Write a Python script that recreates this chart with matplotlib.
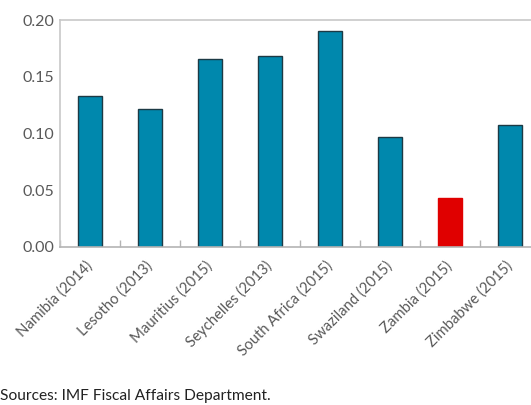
import matplotlib
matplotlib.use('Agg')
import matplotlib.pyplot as plt
import numpy as np

countries = ['Namibia (2014)', 'Lesotho (2013)', 'Mauritius (2015)', 'Seychelles (2013)',
             'South Africa (2015)', 'Swaziland (2015)', 'Zambia (2015)', 'Zimbabwe (2015)']
values = [0.133, 0.1215, 0.166, 0.168, 0.1905, 0.097, 0.0432, 0.1072]
highlight = 'Zambia (2015)'

plt.rcParams['font.family'] = ['Lato', 'DejaVu Sans']

fig = plt.figure(figsize=(5.31, 4.05), dpi=100)
ax = fig.add_axes([60 / 531, 158 / 405, 480 / 531, 227 / 405])

x = np.arange(len(countries))
colors = ['#e00000' if c == highlight else '#0088ad' for c in countries]
edges = ['#e00000' if c == highlight else '#1c3a45' for c in countries]
ax.bar(x, values, width=0.4, color=colors, edgecolor=edges, linewidth=1.0)

ax.set_xlim(-0.5, len(countries) - 0.5)
ax.set_ylim(0, 0.20)
ax.set_yticks([0, 0.05, 0.10, 0.15, 0.20])
ax.set_yticklabels(['0.00', '0.05', '0.10', '0.15', '0.20'])

for s in ax.spines.values():
    s.set_color('#c8c8c8')
    s.set_linewidth(1.2)
ax.spines['bottom'].set_color('#b4b4b4')

# category boundary ticks pointing up
ax.set_xticks(np.arange(len(countries) + 1) - 0.5, minor=True)
ax.tick_params(axis='x', which='minor', direction='in', length=5, color='#b4b4b4', width=1)
ax.set_xticks(x)
ax.set_xticklabels(countries, rotation=45, ha='right', va='center', rotation_mode='anchor')
ax.tick_params(axis='x', which='major', length=0, pad=12, labelsize=10.7, labelcolor='#595959')
ax.tick_params(axis='y', length=0, pad=27, labelsize=11.5, labelcolor='#595959')
for lbl in ax.get_yticklabels():
    lbl.set_horizontalalignment('left')

fig.text(0.0, 2 / 405, 'Sources: IMF Fiscal Affairs Department.', fontsize=11.2, color='#222222',
         ha='left', va='bottom')

fig.savefig('out.png', dpi=100)
